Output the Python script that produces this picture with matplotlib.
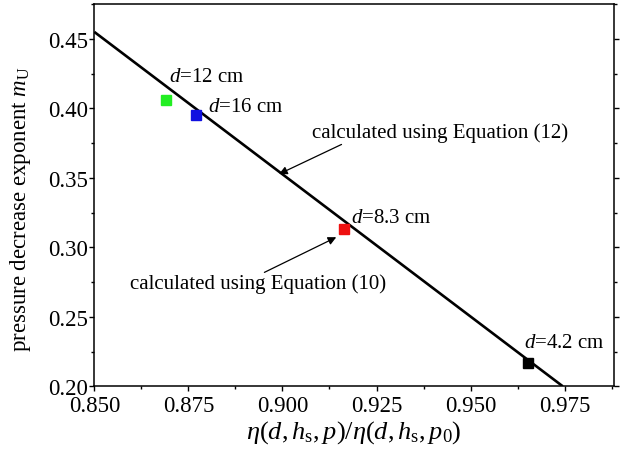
import matplotlib
matplotlib.use("Agg")
import matplotlib.pyplot as plt
from matplotlib.ticker import MultipleLocator, FormatStrFormatter

plt.rcParams["font.family"] = ["Liberation Serif", "DejaVu Serif"]
plt.rcParams["mathtext.fontset"] = "custom"
plt.rcParams["mathtext.rm"] = "Liberation Serif"
plt.rcParams["mathtext.it"] = "Liberation Serif:italic"
plt.rcParams["mathtext.bf"] = "Liberation Serif:bold"

# Equation (12): straight-line relation between viscosity ratio and exponent
line_x = [0.850, 0.9745]
line_y = [0.4551, 0.200]

# Equation (10) results for each diameter
point_x = [0.8690, 0.8769, 0.9164, 0.9652]
point_y = [0.4062, 0.3954, 0.3135, 0.2167]
point_colors = ["#22ee22", "#1010e0", "#ee1010", "#000000"]
point_labels = [r"$d$=12 cm", r"$d$=16 cm", r"$d$=8.3 cm", r"$d$=4.2 cm"]
label_x = [0.8699, 0.8803, 0.9182, 0.9641]
label_y = [0.4231, 0.4016, 0.3214, 0.2316]

# annotation texts with arrow tail / head positions
note_texts = ["calculated using Equation (12)", "calculated using Equation (10)"]
note_x = [0.9079, 0.8594]
note_y = [0.3827, 0.2742]
arrow_tail = [(0.9157, 0.3741), (0.8952, 0.2820)]
arrow_head = [(0.8991, 0.3528), (0.9143, 0.3073)]

fig = plt.figure(figsize=(6.21, 4.56), dpi=100)
ax = fig.add_axes([0.1519, 0.1507, 0.988 - 0.1519, 0.9884 - 0.1507])

ax.plot(line_x, line_y, color="black", lw=1.9, solid_capstyle="butt", zorder=2)
for x, y, c in zip(point_x, point_y, point_colors):
    ax.plot(x, y, marker="s", ms=7.5, color=c, mec=c, ls="none", zorder=3)
for x, y, t in zip(label_x, label_y, point_labels):
    ax.text(x, y, t, fontsize=15, ha="left", va="center")

for t, x, y, tail, head in zip(note_texts, note_x, note_y, arrow_tail, arrow_head):
    ax.text(x, y, t, fontsize=15, ha="left", va="center")
    ax.annotate("", xy=head, xytext=tail,
                arrowprops=dict(arrowstyle="-|>", color="black", lw=0.9,
                                mutation_scale=12, shrinkA=0, shrinkB=0))

ax.set_xlim(0.850, 0.988)
ax.set_ylim(0.200, 0.475)
ax.xaxis.set_major_locator(MultipleLocator(0.025))
ax.xaxis.set_minor_locator(MultipleLocator(0.0125))
ax.yaxis.set_major_locator(MultipleLocator(0.05))
ax.yaxis.set_minor_locator(MultipleLocator(0.025))
ax.xaxis.set_major_formatter(FormatStrFormatter("%.3f"))
ax.yaxis.set_major_formatter(FormatStrFormatter("%.2f"))
ax.tick_params(which="both", direction="out", right=True, top=False,
               labelsize=16.5, width=1.0, pad=1)
ax.tick_params(axis="x", which="major", pad=3)
ax.tick_params(which="major", length=3.5)
ax.tick_params(which="minor", length=2.5)
for s in ax.spines.values():
    s.set_linewidth(1.1)

ax.set_xlabel(r"$\eta(d,h_{\rm s},p)/\eta(d,h_{\rm s},p_0)$", fontsize=19, labelpad=1)
ax.set_ylabel(r"pressure decrease exponent $m_{\rm U}$", fontsize=16.5)
ax.yaxis.set_label_coords(-0.118, 0.465)

fig.savefig("out.png", dpi=100)
